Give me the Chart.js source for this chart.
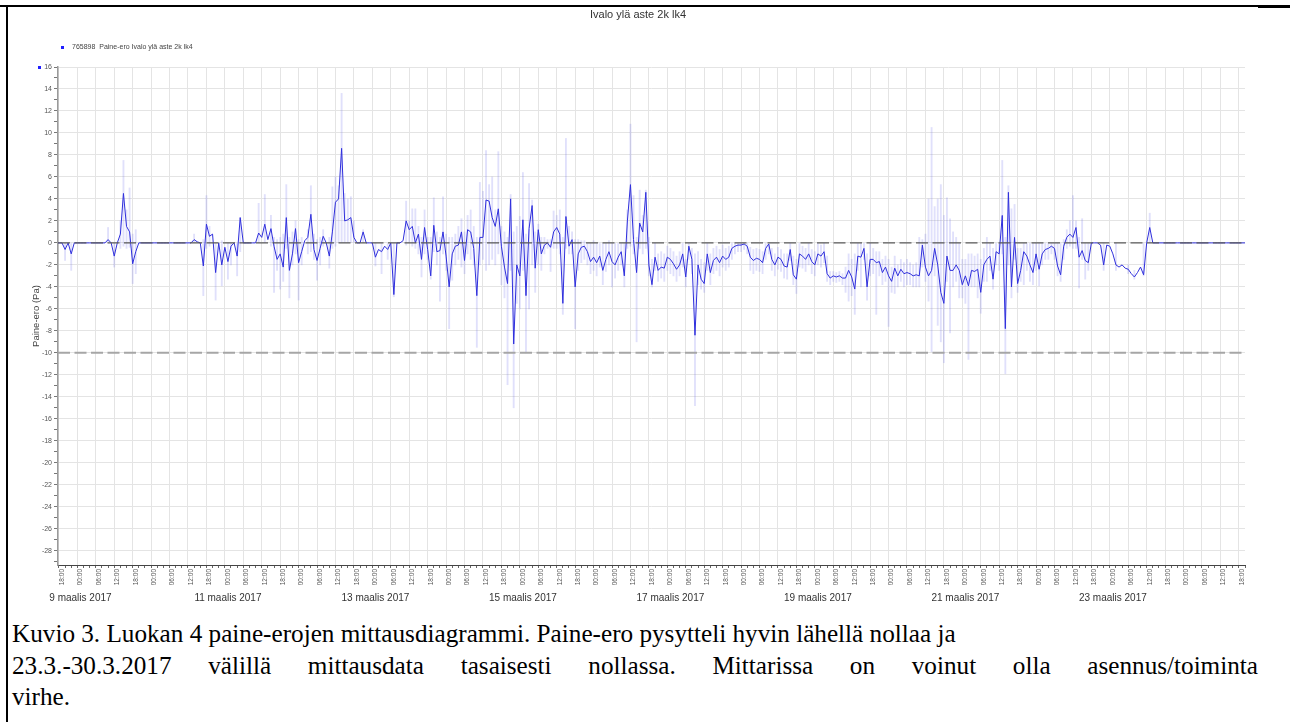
<!DOCTYPE html>
<html>
<head>
<meta charset="utf-8">
<script src="https://cdn.jsdelivr.net/npm/chart.js@4.4.1/dist/chart.umd.min.js"></script>
<style>
  body { margin: 0; background: #fff; width: 1290px; height: 722px; overflow: hidden; position: relative; }
  .rule-top { position: absolute; left: 0; top: 5px; width: 1290px; height: 2px; background: #000; }
  .rule-left { position: absolute; left: 6px; top: 5px; width: 2px; height: 717px; background: #000; }
  .rule-right { position: absolute; left: 1258px; top: 5px; width: 32px; height: 3px; background: #000; }
  #wrap { position: absolute; left: 8px; top: 8px; width: 1262px; height: 600px; }
  .cap { position: absolute; left: 12px; font-family: 'Liberation Serif', 'Times New Roman', serif; font-size: 25.2px; line-height: 31.5px; color: #000; white-space: nowrap; }
  .cap.wide { width: 1246px; text-align: justify; text-align-last: justify; }
</style>
</head>
<body>
<div class="rule-top"></div>
<div class="rule-left"></div>
<div class="rule-right"></div>
<div id="wrap"><canvas id="pressureChart" width="1262" height="600"></canvas></div>
<div class="cap" style="top:618px">Kuvio 3. Luokan 4 paine-erojen mittausdiagrammi. Paine-ero pysytteli hyvin lähellä nollaa ja</div>
<div class="cap wide" style="top:649.5px">23.3.-30.3.2017 välillä mittausdata tasaisesti nollassa. Mittarissa on voinut olla asennus/toiminta</div>
<div class="cap" style="top:681px">virhe.</div>
<script>
// texts
const chartTitle = 'Ivalo ylä aste 2k lk4';
const seriesName = '765898  Paine-ero Ivalo ylä aste 2k lk4';
const yTitle = 'Paine-ero (Pa)';
const hourLabels = ['00:00', '06:00', '12:00', '18:00'];
const dateLabels = ['9 maalis 2017', '11 maalis 2017', '13 maalis 2017', '15 maalis 2017',
  '17 maalis 2017', '19 maalis 2017', '21 maalis 2017', '23 maalis 2017'];
// hours counted from 9 March 00:00
const dateLabelHours = [24, 72, 120, 168, 216, 264, 312, 360];
const limitLines = [0, -10];
const xMin = 16.7, xMax = 403;
const yMin = -29.3, yMax = 16;

// hourly pressure difference (Pa), first value at hour 10
const firstHour = 10;
const pressure = [
  0, 0, 0, 0, 0, 0, 0, 0, 0, -0.6,
  0, -1.0, 0, 0, 0, 0, 0, 0, 0, 0,
  0, 0, 0, 0.3, 0, -1.2, 0, 0.8, 4.5, 1.5,
  1.0, -1.9, -0.8, 0, 0, 0, 0, 0, 0, 0,
  0, 0, 0, 0, 0, 0, 0, 0, 0, 0,
  0, 0.3, 0.1, 0, -2.1, 1.7, 0.6, 0.8, -2.7, 0,
  -2.0, -0.4, -1.7, -0.3, 0, -1.2, 2.3, 0, 0, 0,
  0, 0, 0.9, 0.5, 1.7, 0.3, 1.3, -0.3, -1.5, -1.0,
  -2.2, 2.3, -2.5, -1.0, 1.3, -1.8, -0.8, 0.2, 0.5, 2.6,
  -0.6, -1.6, -0.5, 0.6, 0, -1.2, 1.0, 3.7, 4.0, 8.6,
  2.0, 2.1, 2.3, 0.5, 0, 0, 1.0, 0, 0, 0,
  -1.3, -0.6, -0.8, -0.3, -0.6, 0, -4.7, 0, 0, 0.2,
  2.0, 1.2, 1.5, 0, 0.8, -1.5, 1.4, -0.6, -3.0, 1.6,
  -0.8, -0.7, 1.0, -1.2, -4.0, -1.0, -0.3, -0.2, 1.0, -1.6,
  1.2, 1.0, -0.5, -4.8, 0.5, 0.5, 3.9, 3.8, 2.3, 1.5,
  3.1, -0.3, -2.2, -3.7, 4.0, -9.2, -2.0, -3.0, 2.1, -4.8,
  1.3, 3.4, -2.3, 1.2, -1.0, -0.2, 0, -0.4, 1.0, 1.4,
  0.8, -5.5, 2.4, -0.3, 0.3, -4.0, -1.0, -0.4, -0.3, -0.8,
  -1.7, -1.3, -1.8, -1.2, -2.5, -1.5, -0.8, -1.7, -2.0, -1.3,
  -0.8, -3.0, 2.0, 5.3, 0.3, -2.7, 1.8, 1.0, 4.6, -2.0,
  -3.8, -1.3, -2.5, -2.2, -2.3, -1.3, -1.5, -1.9, -2.4, -2.0,
  -1.0, -3.1, -0.3, -1.5, -8.4, -2.0, -3.3, -3.7, -1.0, -2.7,
  -1.6, -1.3, -1.8, -1.2, -1.5, -1.3, -0.5, -0.3, -0.2, -0.2,
  -0.1, -0.3, -1.3, -1.6, -1.4, -1.5, -1.8, -0.5, -0.1, -1.5,
  -2.0, -1.3, -1.5, -2.1, -2.2, -0.6, -2.9, -3.3, -1.0, -1.2,
  -1.5, -1.0, -1.7, -2.0, -1.0, -1.2, -0.8, -2.8, -3.2, -3.0,
  -3.1, -3.0, -3.2, -3.2, -2.5, -3.1, -4.2, -1.2, -1.3, -0.5,
  -4.0, -1.5, -1.5, -1.8, -1.7, -2.7, -2.2, -3.0, -3.5, -2.3,
  -3.0, -2.4, -2.8, -2.7, -2.8, -3.0, -2.9, -3.0, -0.2, -2.2,
  -3.0, -2.5, -0.5, -2.0, -4.5, -5.5, -1.2, -2.5, -2.5, -2.0,
  -2.5, -3.8, -3.0, -3.9, -2.5, -2.6, -2.4, -4.5, -2.0, -1.5,
  -1.2, -3.3, -0.8, -1.0, 2.5, -7.8, 4.6, -4.0, 0.5, -3.7,
  -2.5, -0.8, -1.2, -2.0, -2.7, -1.0, -2.4, -1.0, -0.6, -0.5,
  -0.3, -0.5, -2.1, -2.9, -0.3, 0.5, 0.8, 0.5, 1.4, -1.3,
  -0.7, -1.6, -1.8, 0, 0, 0, -0.2, -2.0, -0.2, -0.3,
  -1.0, -2.0, -2.2, -2.0, -2.3, -2.4, -2.8, -3.1, -2.7, -2.2,
  -2.9, 0, 1.4, 0, 0, 0, 0, 0, 0, 0,
  0, 0, 0, 0, 0, 0, 0, 0, 0, 0,
  0, 0, 0, 0, 0, 0, 0, 0, 0, 0,
  0, 0, 0, 0, 0
];

// isolated min/max spikes (light series)
const spikeHours = [19, 21, 33, 35, 37, 38, 39, 40, 41, 42,
  61, 64, 65, 66, 68, 70, 72, 73, 75, 76,
  82, 84, 86, 87, 88, 89, 90, 91, 92, 93,
  94, 95, 96, 98, 99, 100, 101, 102, 103, 105,
  106, 107, 108, 109, 110, 111, 112, 113, 116, 120,
  122, 124, 126, 130, 131, 132, 133, 134, 135, 136,
  137, 138, 139, 357, 361, 365, 367, 370, 372];
const spikeLow = [-1.6, -2.5, 0, -2.2, -0.5, -0.3, -0.5, -0.4, -3.7, -2.8,
  0, -4.8, -0.5, -0.3, -5.2, -3.9, -3.3, -2.0, -3.0, -0.8,
  0, 0, -0.3, -4.5, -2.5, -4.2, -3.5, -0.5, -5.0, -2.0,
  -1.0, -5.2, -2.0, -1.0, -0.8, -1.5, -3.4, -2.0, -0.3, -2.3,
  -0.5, -0.3, 0, 0, 0, 0, 0, 0, 0, -2.1,
  -2.8, -1.5, -4.9, -0.2, 0, -0.3, -0.5, -1.0, -3.1, -1.0,
  -1.5, -3.3, -0.8, -2.5, -2.5, -2.8, -3.3, -3.0, 0];
const spikeHigh = [0, 0, 1.4, 0, 2.0, 7.5, 3.0, 5.0, 0.8, 1.2,
  0.8, 0.3, 4.3, 1.5, 0, 0.2, 0, 0, 0, 2.3,
  3.6, 4.4, 2.5, 0.5, 0.3, 0.5, 0.8, 5.3, 0.5, 1.0,
  2.0, 0.3, 0.5, 1.2, 5.2, 0.8, 0.3, 0.5, 1.2, 0.5,
  5.1, 6.0, 5.2, 13.6, 4.5, 4.0, 4.2, 2.0, 1.2, 0,
  0, 0, 0, 3.8, 2.0, 3.1, 3.1, 1.5, 0.5, 3.0,
  0.5, 0.5, 4.1, 0, 0, -2.0, -2.5, 0, 2.7];

// continuous min/max band, hourly from hour 140
const bandStart = 140;
const bandLow = [
  -2.0, -5.3, -1.0, -2.5, -7.8, -3.4, -2.0, -1.5, -2.2, -2.8,
  -1.0, -1.5, -2.0, -9.5, -2.0, -1.5, -2.5, -2.0, -1.5, -2.0,
  -1.0, -3.8, -5.0, -12.9, -2.5, -15.0, -5.5, -6.0, -2.5, -10.0,
  -6.0, -2.0, -4.5, -2.0, -2.5, -1.0, -0.5, -2.6, -0.5, -0.5,
  -1.0, -6.5, -0.5, -1.0, -1.0, -7.8, -2.5, -1.8, -1.5, -2.0,
  -2.8, -2.5, -3.0, -2.2, -3.8, -2.6, -2.0, -4.0, -3.2, -2.5,
  -2.0, -4.0, -0.5, -0.3, -1.0, -9.0, -0.5, -1.0, -0.5, -3.0,
  -4.0, -2.5, -3.5, -3.2, -3.5, -2.5, -2.8, -3.0, -3.5, -3.0,
  -2.2, -4.0, -1.5, -2.8, -14.8, -3.8, -4.2, -4.5, -2.5, -3.8,
  -2.8, -2.5, -3.0, -2.2, -2.5, -2.2, -1.5, -1.0, -0.8, -0.8,
  -0.6, -1.0, -2.5, -2.8, -2.5, -2.6, -2.8, -1.5, -1.0, -2.5,
  -3.0, -2.4, -2.6, -3.2, -3.3, -1.6, -3.8, -4.6, -2.2, -2.3,
  -2.6, -2.0, -2.8, -3.0, -2.0, -2.2, -1.8, -3.5, -3.8, -3.5,
  -3.6, -3.5, -3.8, -4.5, -5.3, -4.8, -6.5, -2.5, -4.0, -1.5,
  -5.2, -3.0, -2.8, -6.5, -3.0, -3.8, -3.5, -7.6, -4.5, -4.6,
  -4.0, -3.5, -4.0, -3.8, -3.8, -4.0, -4.0, -4.0, -2.2, -3.5,
  -5.3, -9.9, -3.0, -7.5, -9.0, -10.9, -3.5, -8.2, -4.0, -3.5,
  -5.0, -5.0, -5.5, -10.6, -4.0, -4.0, -5.0, -6.4, -3.5, -3.5,
  -2.5, -4.2, -2.0, -2.5, -1.0, -11.9, -2.0, -5.0, -1.5, -4.5,
  -3.5, -3.8, -2.5, -3.5, -3.8, -2.5, -3.9, -2.0, -1.5, -1.5,
  -1.0, -1.5, -3.0, -3.5, -1.5, -0.5, -0.3, -0.5, -0.5, -4.1,
  -1.5, -3.3, -2.5
];
const bandHigh = [
  1.0, 0.5, 4.2, 0.8, 0.5, 0.5, 0.8, 1.5, 2.2, 1.0,
  2.5, 3.0, 1.5, 0.5, 5.5, 4.7, 8.4, 5.3, 6.0, 3.0,
  8.3, 1.5, 1.0, 0.5, 4.4, 1.0, 1.5, 2.4, 6.4, 0.8,
  5.4, 3.9, 1.0, 1.7, 0.5, 0.5, 0.3, 0.3, 2.9, 2.5,
  3.0, 0.5, 9.5, 1.5, 1.0, 0.3, 0.3, 0.2, 0.2, 0,
  0, 0.2, 0, 0, 0, 0, 0.2, 0, 0, 0,
  0, 0, 3.0, 10.8, 4.3, 0.5, 4.8, 2.5, 4.8, 0.5,
  -1.5, 0, -1.0, -0.8, -1.0, -0.3, -0.5, -0.8, -1.2, -0.8,
  0, -1.5, 0, -0.5, -1.0, -0.8, -1.5, -1.8, 0, -1.0,
  -0.5, -0.3, -0.6, -0.2, -0.5, -0.3, 0, 0, 0, 0,
  0, 0, -0.4, -0.6, -0.5, -0.6, -0.8, 0, 0, -0.5,
  -1.0, -0.4, -0.6, -1.0, -1.0, 0, -1.2, -1.5, 0, -0.3,
  -0.5, 0, -0.6, -0.8, 0, -0.2, 0, -1.2, -2.6, -2.6,
  -2.7, -2.6, -2.8, -2.2, -1.0, -1.5, -1.0, 0, 0, 0,
  -1.0, 0, -0.5, -0.8, -0.8, -1.5, -1.2, -1.5, -2.2, -1.2,
  -2.0, -1.5, -1.8, -1.5, -1.8, -2.0, -1.8, 0.5, 0.3, 0.8,
  4.0, 10.5, 3.3, 4.0, 5.3, 2.5, 4.1, 2.2, 1.0, 0.5,
  0, -1.5, -1.5, -1.0, -1.0, -1.2, -1.0, -1.5, -0.5, 0.5,
  0, -0.5, 0, 0, 7.5, 0.5, 5.2, 3.1, 3.5, -0.5,
  -0.5, 0, 0, 0, 0, 0, 0, 0, 0, 0,
  0, 0, 0, 0, 0.3, 1.2, 2.0, 4.3, 2.0, 0.5,
  2.2, 0, 0
];

// build chart data
const lineData = pressure.map((v, i) => ({ x: firstHour + i, y: v }));
const rangeData = spikeHours.map((h, i) => ({ x: h, y: [spikeLow[i], spikeHigh[i]] }))
  .concat(bandLow.map((lo, i) => ({ x: bandStart + i, y: [lo, bandHigh[i]] })));

const hourTicks = [];
for (let h = 18; h <= 402; h += 2) hourTicks.push(h);
const valueTicks = [];
for (let v = -29; v <= 16; v++) valueTicks.push(v);

const gridColor = '#e4e4e4';

// title, legend and the small marker
const headerPlugin = {
  id: 'header',
  afterDraw(chart) {
    const ctx = chart.ctx;
    ctx.save();
    ctx.fillStyle = '#333';
    ctx.font = '11px "Liberation Sans", Arial, sans-serif';
    ctx.textAlign = 'center';
    ctx.textBaseline = 'middle';
    ctx.fillText(chartTitle, 630, 7);
    ctx.fillStyle = '#1f1fff';
    ctx.fillRect(53, 38, 3, 3);
    ctx.fillRect(30, 58, 3, 3);
    ctx.fillStyle = '#444';
    ctx.font = '7px "Liberation Sans", Arial, sans-serif';
    ctx.textAlign = 'left';
    ctx.fillText(seriesName, 64, 39.5);
    ctx.restore();
  }
};

const ctx = document.getElementById('pressureChart').getContext('2d');
new Chart(ctx, {
  type: 'line',
  data: {
    datasets: [
      ...limitLines.map((v, i) => ({
        type: 'line',
        data: [{ x: xMin, y: v }, { x: xMax, y: v }],
        borderColor: i === 0 ? '#5a5a5a' : '#a6a6a6',
        borderWidth: i === 0 ? 1.3 : 2,
        borderDash: [12, 4.5],
        pointRadius: 0,
        order: 0
      })),
      {
        type: 'line',
        label: seriesName,
        data: lineData,
        borderColor: '#2f2fdc',
        borderWidth: 1,
        pointRadius: 0,
        tension: 0,
        order: 1
      },
      {
        type: 'bar',
        data: rangeData,
        backgroundColor: 'rgba(100, 100, 235, 0.2)',
        borderWidth: 0,
        barThickness: 1.2,
        grouped: false,
        order: 2
      }
    ]
  },
  options: {
    responsive: false,
    animation: false,
    events: [],
    layout: { padding: { top: 59, right: 25, left: 0, bottom: 4 } },
    plugins: {
      legend: { display: false },
      tooltip: { enabled: false },
      title: { display: false }
    },
    scales: {
      x: {
        type: 'linear',
        min: xMin,
        max: xMax,
        offset: false,
        afterBuildTicks: s => { s.ticks = hourTicks.map(v => ({ value: v })); },
        afterFit: s => { s.height = 25; },
        ticks: {
          autoSkip: false,
          minRotation: 90,
          maxRotation: 90,
          padding: 1,
          color: '#555',
          font: { size: 6.5, family: '"Liberation Sans", Arial, sans-serif' },
          callback: v => (v % 6 === 0 ? hourLabels[(v % 24) / 6] : '')
        },
        grid: {
          color: c => (c.tick && c.tick.value % 6 === 0 ? gridColor : 'rgba(0,0,0,0)'),
          tickColor: '#666',
          tickLength: 3
        },
        border: { color: '#444', width: 1 }
      },
      x2: {
        type: 'linear',
        position: 'bottom',
        weight: 1,
        min: xMin,
        max: xMax,
        offset: false,
        afterBuildTicks: s => { s.ticks = dateLabelHours.map(v => ({ value: v })); },
        afterFit: s => { s.height = 14; },
        ticks: {
          autoSkip: false,
          maxRotation: 0,
          padding: 2,
          color: '#333',
          font: { size: 10, family: '"Liberation Sans", Arial, sans-serif' },
          callback: (v, i) => dateLabels[i]
        },
        grid: { display: false, drawTicks: false },
        border: { display: false }
      },
      y: {
        type: 'linear',
        min: yMin,
        max: yMax,
        afterBuildTicks: s => { s.ticks = valueTicks.map(v => ({ value: v })); },
        afterFit: s => { s.width = 50; },
        ticks: {
          autoSkip: false,
          padding: 2,
          color: '#555',
          font: { size: 7, family: '"Liberation Sans", Arial, sans-serif' },
          callback: v => (v % 2 === 0 ? String(v) : '')
        },
        grid: {
          color: c => (c.tick && c.tick.value % 2 === 0 ? gridColor : 'rgba(0,0,0,0)'),
          tickColor: '#777',
          tickLength: 4
        },
        border: { color: '#9a9a9a', width: 1.5 },
        title: {
          display: true,
          text: yTitle,
          color: '#444',
          font: { size: 9.5, family: '"Liberation Sans", Arial, sans-serif' },
          padding: { top: 23, bottom: 0 }
        }
      }
    }
  },
  plugins: [headerPlugin]
});
</script>
</body>
</html>
